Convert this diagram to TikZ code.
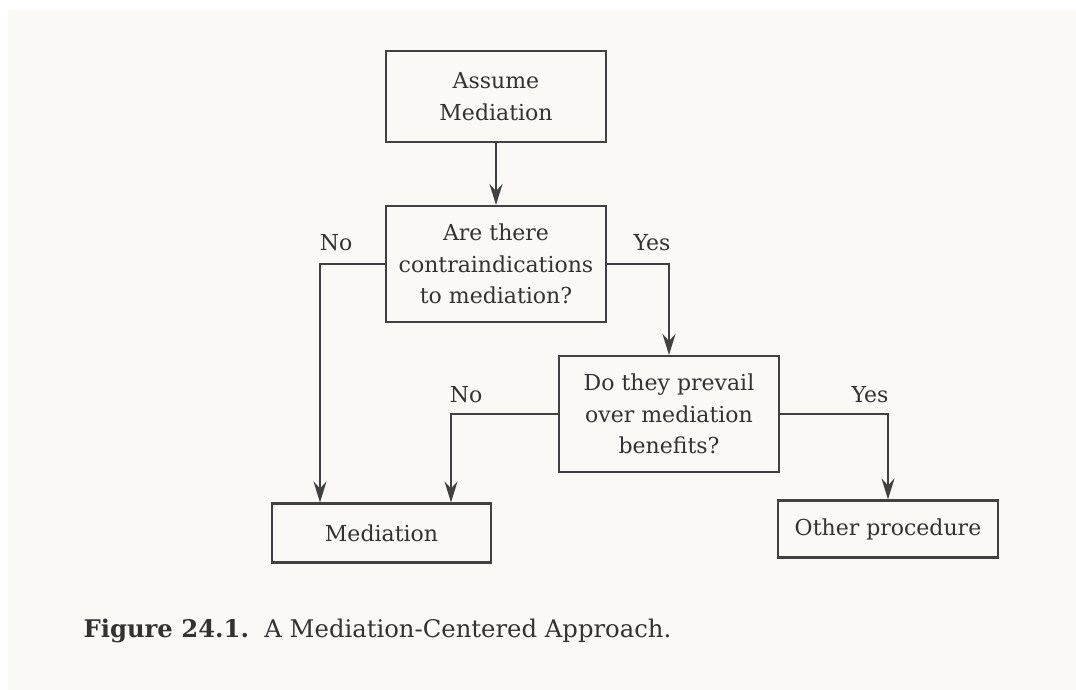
\documentclass[tikz,border=0pt]{standalone}
\usepackage{fontspec}
\setmainfont{DejaVu Serif}
\usetikzlibrary{arrows.meta}
\definecolor{paper}{RGB}{250,249,245}
\definecolor{ink}{RGB}{50,50,50}
\definecolor{rule}{RGB}{65,65,65}
\tikzset{
  box/.style={draw=rule, line width=2.1pt, fill=paper, text=ink, align=center,
    inner sep=0pt, font=\fontsize{22}{31.5}\selectfont},
  flow/.style={draw=rule, line width=2.1pt,
    -{Stealth[length=21pt, width=13pt, inset=7pt]}},
  lbl/.style={text=ink, font=\fontsize{22}{31.5}\selectfont},
}
\begin{document}
\begin{tikzpicture}[x=1pt, y=-1pt]
  % page and margins
  \useasboundingbox (0,0) rectangle (1076,690);
  \fill[white] (0,0) rectangle (1076,690);
  \fill[paper] (8,10) rectangle (1076,690);

  % boxes
  \node[box, minimum width=220pt, minimum height=91pt] (assume) at (496,96.5) {Assume\\Mediation};
  \node[box, minimum width=220pt, minimum height=116pt] (q1) at (496,264) {Are there\\contraindications\\to mediation?};
  \node[box, minimum width=220pt, minimum height=116pt] (q2) at (669,414) {Do they prevail\\over mediation\\benefits?};
  \node[box, minimum width=219pt, minimum height=59pt] (med) at (381.5,533) {Mediation};
  \node[box, minimum width=220pt, minimum height=57pt] (other) at (888,529) {Other procedure};

  % bends of the "No" branches
  \coordinate (no1) at (320,264);
  \coordinate (no2) at (451,414);

  % connectors
  \draw[flow] (assume.south) -- (q1.north);
  \draw[flow] (q1.west) -- (no1) -- (no1 |- med.north);
  \draw[flow] (q1.east) -| (q2.north);
  \draw[flow] (q2.west) -- (no2) -- (no2 |- med.north);
  \draw[flow] (q2.east) -| (other.north);

  % branch labels
  \node[lbl] (lno1) at (336,243) {No};
  \node[lbl] (lyes1) at (652,243) {Yes};
  \node[lbl] (lno2) at (466,395) {No};
  \node[lbl] (lyes2) at (870,395) {Yes};

  % caption
  \node[anchor=west, text=ink, font=\fontsize{24.3}{29}\selectfont] (cap) at (80,631)
    {\textbf{Figure 24.1.}\ \ A Mediation-Centered Approach.};
\end{tikzpicture}
\end{document}
